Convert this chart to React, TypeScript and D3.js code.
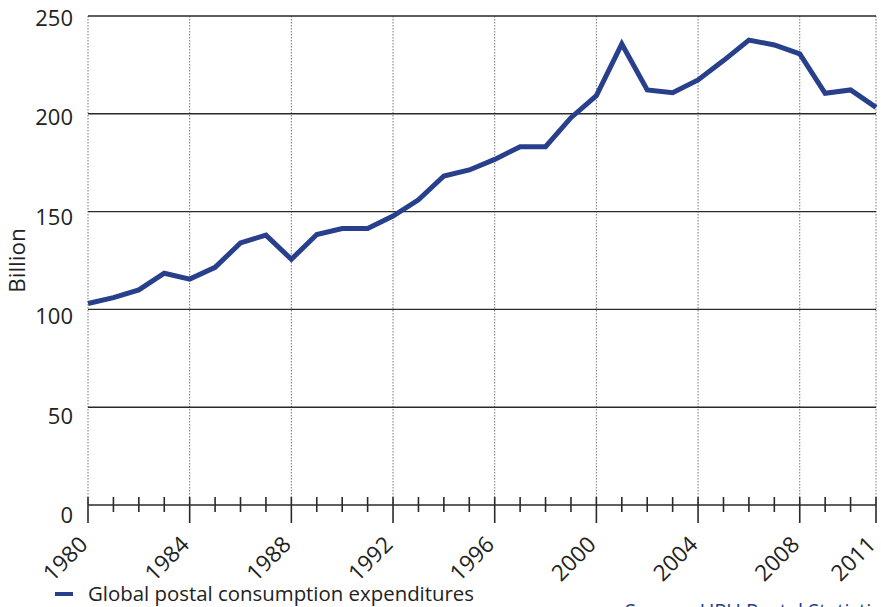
import React from "react";
import * as d3 from "d3";

const years = [1980,1981,1982,1983,1984,1985,1986,1987,1988,1989,1990,1991,1992,1993,1994,1995,1996,1997,1998,1999,2000,2001,2002,2003,2004,2005,2006,2007,2008,2009,2010,2011];
const values = [103,106,110,118.5,115.5,121.5,134,138,125.6,138.3,141.3,141.3,147.7,156,168.2,171.3,176.7,183.2,183.2,198,209.3,235.7,212.2,210.8,217.3,227.2,237.7,235.2,230.6,210.5,212.2,203.3];
const yTicks = [0,50,100,150,200,250];
const xLabels = [1980,1984,1988,1992,1996,2000,2004,2008,2011];
const seriesName = "Global postal consumption expenditures";
const yTitle = "Billion";
const sourceText = "Source: UPU Postal Statistics";

const W = 881, H = 607;
const left = 88, right = 876, top = 16, bottom = 505;
const FONT = "'Open Sans', 'Noto Sans', sans-serif";
const BLUE = "#283f8c";

export default function App() {
  const x = d3.scaleLinear().domain([1980, 2011]).range([left, right]);
  const y = d3.scaleLinear().domain([0, 250]).range([bottom, top]);
  const yLab = d3.scaleLinear().domain([0, 250]).range([515, 17.5]);
  const line = d3.line<number>().x((_, i) => x(years[i])).y(d => y(d));
  return (
    <svg width={W} height={H} style={{ position: "absolute", left: 0, top: 0, background: "#fff" }}>
      {xLabels.map(v => (
        <line key={"vg" + v} x1={x(v)} x2={x(v)} y1={top} y2={bottom} stroke="#777" strokeWidth={1} strokeDasharray="1.5,1.5" />
      ))}
      {yTicks.filter(t => t > 0).map(t => (
        <line key={"hg" + t} x1={left} x2={right} y1={y(t)} y2={y(t)} stroke="#2a2a2a" strokeWidth={1.4} />
      ))}
      <line x1={left} x2={right} y1={bottom} y2={bottom} stroke="#2a2a2a" strokeWidth={1.6} />
      {years.map(v => {
        const major = xLabels.includes(v);
        return <line key={"t" + v} x1={x(v)} x2={x(v)} y1={bottom - 8} y2={major ? bottom + 18 : bottom + 7} stroke="#2a2a2a" strokeWidth={1.6} />;
      })}
      {yTicks.map(t => (
        <text key={"yl" + t} x={73} y={yLab(t) + 8} textAnchor="end" fontFamily={FONT} fontSize={22} fill="#222">{t}</text>
      ))}
      {xLabels.map(v => (
        <text key={"xl" + v} transform={`translate(${x(v) + 1},${bottom + 41}) rotate(-45)`} textAnchor="end" fontFamily={FONT} fontSize={22.5} fill="#222">{v}</text>
      ))}
      <text transform={`translate(25,${(top + bottom) / 2}) rotate(-90)`} textAnchor="middle" fontFamily={FONT} fontSize={22.5} fill="#222">{yTitle}</text>
      <path d={line(values) || ""} fill="none" stroke={BLUE} strokeWidth={5} strokeLinejoin="miter" strokeLinecap="butt" />
      <line x1={55} x2={73} y1={594} y2={594} stroke={BLUE} strokeWidth={4} />
      <text x={88} y={601} fontFamily={FONT} fontSize={20.4} fill="#222">{seriesName}</text>
      <text x={625} y={618} fontFamily={FONT} fontSize={20} fill={BLUE}>{sourceText}</text>
    </svg>
  );
}
